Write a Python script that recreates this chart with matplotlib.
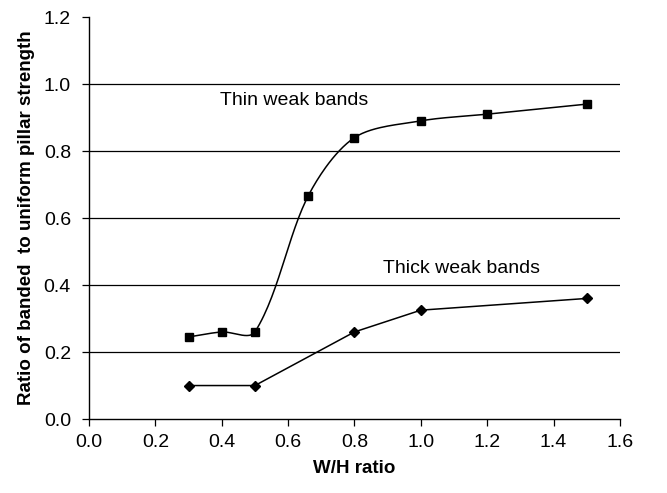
import numpy as np
import matplotlib
matplotlib.use("Agg")
from matplotlib import pyplot as plt

plt.rcParams['font.family'] = ['Liberation Sans', 'DejaVu Sans']

# data
wh_thin = [0.3, 0.4, 0.5, 0.66, 0.8, 1.0, 1.2, 1.5]
ratio_thin = [0.245, 0.26, 0.26, 0.665, 0.84, 0.89, 0.91, 0.94]
wh_thick = [0.3, 0.5, 0.8, 1.0, 1.5]
ratio_thick = [0.1, 0.1, 0.26, 0.325, 0.36]


def smooth_line(x, y, k=0.3, n=30):
    # smoothed line like a spreadsheet: cubic bezier through the points,
    # handle length scaled by the segment length
    pts = np.column_stack([x, y]).astype(float)
    m = len(pts)
    tang = []
    for i in range(m):
        a = pts[max(i - 1, 0)]
        b = pts[min(i + 1, m - 1)]
        d = b - a
        tang.append(d / np.hypot(*d))
    t = np.linspace(0, 1, n)[:, None]
    xs, ys = [], []
    for i in range(m - 1):
        p0, p3 = pts[i], pts[i + 1]
        L = np.hypot(*(p3 - p0))
        p1 = p0 + tang[i] * L * k
        p2 = p3 - tang[i + 1] * L * k
        b = (1 - t) ** 3 * p0 + 3 * (1 - t) ** 2 * t * p1 + 3 * (1 - t) * t ** 2 * p2 + t ** 3 * p3
        xs.extend(b[:, 0])
        ys.extend(b[:, 1])
    return xs, ys


fig = plt.figure(figsize=(6.67, 4.93), dpi=100)
ax = fig.add_axes([0.1334, 0.150, 0.7961, 0.8155])

for yv in [0.2, 0.4, 0.6, 0.8, 1.0]:
    ax.axhline(yv, color='black', lw=0.9, zorder=1)

sx, sy = smooth_line(wh_thin, ratio_thin)
ax.plot(sx, sy, color='black', lw=1.1, zorder=2)
ax.plot(wh_thin, ratio_thin, 's', color='black', ms=6, zorder=3)
ax.plot(wh_thick, ratio_thick, '-D', color='black', lw=1.1, ms=5.5, zorder=3)

ax.text(0.395, 0.952, 'Thin weak bands', fontsize=14, va='center')
ax.text(0.886, 0.45, 'Thick weak bands', fontsize=14, va='center')

ax.set_xlim(0, 1.6)
ax.set_ylim(0, 1.2)
ax.set_xticks(np.arange(0, 1.61, 0.2))
ax.set_yticks(np.arange(0, 1.21, 0.2))
ax.set_xticklabels(['%.1f' % v for v in np.arange(0, 1.61, 0.2)])
ax.set_yticklabels(['%.1f' % v for v in np.arange(0, 1.21, 0.2)])
ax.tick_params(direction='out', length=5, width=0.9, labelsize=14)
ax.tick_params(axis='x', pad=6)
ax.tick_params(axis='y', pad=8)
ax.spines['top'].set_visible(False)
ax.spines['right'].set_visible(False)
ax.spines['left'].set_linewidth(1.0)
ax.spines['bottom'].set_linewidth(1.0)

ax.set_xlabel('W/H ratio', fontsize=13.5, fontweight='bold', labelpad=6)
ax.set_ylabel('Ratio of banded  to uniform pillar strength', fontsize=13.5,
              fontweight='bold', labelpad=6)

fig.savefig('out.png', dpi=100)
